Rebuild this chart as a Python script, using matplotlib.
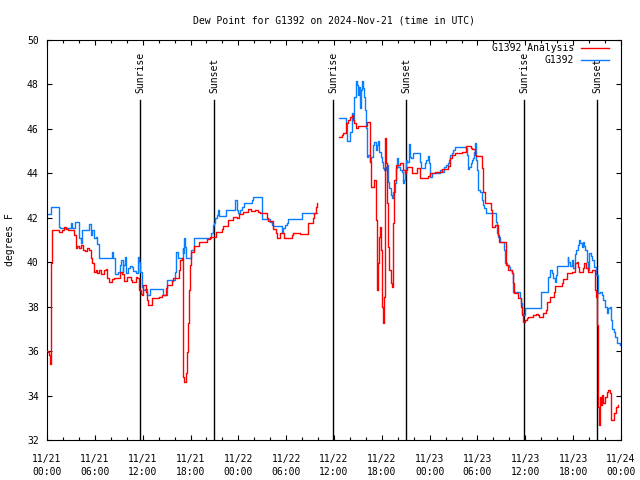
import numpy as np
import matplotlib
matplotlib.use("Agg")
import matplotlib.pyplot as plt
from matplotlib.ticker import MultipleLocator

plt.rcParams['font.family'] = ['DejaVu Sans Mono']
plt.rcParams['font.size'] = 7.0

# hours since 2024-11-21 00:00 UTC
tick_hours = [0, 6, 12, 18, 24, 30, 36, 42, 48, 54, 60, 66, 72]
tick_labels = ["11/21\n00:00", "11/21\n06:00", "11/21\n12:00", "11/21\n18:00",
               "11/22\n00:00", "11/22\n06:00", "11/22\n12:00", "11/22\n18:00",
               "11/23\n00:00", "11/23\n06:00", "11/23\n12:00", "11/23\n18:00",
               "11/24\n00:00"]

sun_hours = [11.67, 20.95, 35.88, 45.02, 59.85, 69.0]
sun_names = ["Sunrise", "Sunset", "Sunrise", "Sunset", "Sunrise", "Sunset"]

# G1392 observations, first day block
obs_h1 = [0.0, 0.54, 1.45, 1.6, 2.97, 3.18, 3.47, 3.97, 4.22, 4.43, 5.27, 5.48,
          5.69, 5.9, 6.1, 6.32, 6.52, 8.2, 8.32, 8.5, 8.9, 9.15, 9.32, 9.49,
          9.57, 9.74, 9.9, 10.16, 10.41, 10.7, 10.83, 11.12, 11.4, 11.54,
          11.66, 11.88, 12.08, 12.29, 12.5, 12.92, 14.6, 15.01, 16.06, 16.18,
          16.39, 17.02, 17.1, 17.23, 17.31, 17.44, 18.02, 18.44, 20.57, 20.78,
          20.95, 21.07, 21.28, 21.49, 21.62, 22.45, 23.6, 23.8, 24.0, 24.21,
          24.5, 24.71, 25.67, 25.8, 26.93, 27.0, 27.97, 28.18, 28.39, 29.52,
          29.64, 29.85, 30.06, 30.27, 31.95, 33.83]
obs_v1 = [42.16, 42.47, 41.57, 41.52, 41.75, 41.52, 41.8, 41.08, 40.85, 41.45,
          41.72, 41.22, 41.45, 41.1, 41.15, 40.8, 40.2, 40.47, 40.17, 39.46,
          39.58, 39.88, 40.1, 39.58, 39.88, 40.25, 39.5, 39.73, 39.83, 39.8,
          39.6, 39.53, 40.22, 40.03, 39.58, 38.9, 38.75, 38.8, 38.53, 38.8,
          38.53, 39.2, 39.58, 40.45, 40.17, 40.63, 40.4, 41.1, 40.7, 40.17,
          40.55, 41.1, 41.3, 41.67, 41.75, 41.98, 42.13, 42.35, 42.08, 42.35,
          42.8, 42.35, 42.2, 42.35, 42.47, 42.65, 42.8, 42.92, 42.58, 41.93,
          41.82, 41.67, 41.63, 41.33, 41.52, 41.67, 41.75, 41.93, 42.2, 42.2]

# G1392 observations, second block
obs_h2 = [36.67, 37.5, 37.67, 38.0, 38.2, 38.35, 38.5, 38.72, 38.85, 39.05,
          39.18, 39.26, 39.39, 39.47, 39.6, 39.76, 39.89, 40.02, 40.1, 40.3,
          40.5, 40.64, 40.85, 41.06, 41.27, 41.44, 41.56, 41.69, 41.85, 41.98,
          42.1, 42.27, 42.4, 42.52, 42.6, 42.73, 42.82, 42.94, 43.1, 43.23,
          43.44, 43.65, 43.78, 43.94, 44.07, 44.28, 44.49, 44.62, 44.78, 44.9,
          45.03, 45.2, 45.35, 45.5, 45.7, 45.95, 46.79, 46.9, 47.4, 47.6, 47.8,
          47.96, 48.08, 48.25, 48.46, 48.88, 49.09, 49.3, 49.5, 49.84, 50.0,
          50.26, 50.43, 50.55, 50.76, 50.97, 51.18, 52.56, 52.68, 52.77, 52.93,
          53.14, 53.35, 53.48, 53.6, 53.69, 53.81, 53.94, 54.1, 54.31, 54.6,
          54.73, 54.86, 55.03, 56.28, 56.4, 56.6, 56.82, 57.37, 57.45, 57.66,
          57.95, 58.08, 58.29, 58.42, 58.5, 59.33, 59.46, 59.55, 59.75, 59.9,
          61.97, 62.9, 63.1, 63.3, 63.5, 63.7, 63.8, 63.93, 65.3, 65.4, 65.6,
          65.8, 66.0, 66.2, 66.36, 66.57, 66.73, 66.86, 67.07, 67.2, 67.32,
          67.5, 67.7, 67.9, 68.0, 68.2, 68.4, 68.65, 68.87, 69.07, 69.15,
          69.37, 69.58, 69.79, 70.0, 70.2, 70.4, 70.6, 70.75, 70.9, 71.08,
          71.25, 71.46, 71.88]
obs_v2 = [46.48, 46.25, 45.45, 45.87, 46.7, 46.4, 47.45, 48.17, 47.97, 47.53,
          47.9, 46.93, 47.75, 48.17, 47.83, 47.45, 46.85, 46.03, 44.75, 44.83,
          44.53, 44.72, 45.28, 45.43, 45.05, 45.28, 45.45, 44.98, 44.75, 44.53,
          44.23, 44.15, 44.3, 44.15, 44.38, 44.08, 43.63, 43.33, 43.03, 42.88,
          43.18, 43.55, 44.23, 44.67, 44.3, 44.15, 44.08, 43.55, 43.7, 44.15,
          44.6, 44.53, 45.3, 44.75, 44.7, 44.9, 44.53, 44.23, 44.45, 44.6,
          44.76, 44.45, 43.85, 44.0, 44.03, 44.08, 44.0, 44.15, 44.08, 44.3,
          44.38, 44.45, 44.6, 44.83, 44.9, 45.05, 45.2, 45.13, 44.83, 44.18,
          44.3, 44.45, 44.6, 44.68, 44.98, 45.38, 44.6, 44.15, 43.25, 43.18,
          42.8, 42.58, 42.43, 42.2, 41.83, 41.3, 41.15, 40.92, 40.55, 39.95,
          39.87, 39.8, 39.65, 39.5, 38.9, 38.67, 38.37, 38.15, 37.7, 37.62,
          37.93, 38.67, 39.35, 39.65, 39.5, 39.28, 39.13, 39.43, 39.83, 40.25,
          40.03, 39.83, 40.1, 39.73, 40.37, 40.55, 40.78, 41.0, 40.85, 40.7,
          40.92, 40.73, 40.55, 40.03, 39.65, 40.4, 40.28, 40.1, 39.8, 39.43,
          39.05, 38.6, 38.67, 38.53, 38.3, 38.0, 37.7, 37.93, 38.0, 37.4, 37.0,
          36.87, 36.65, 36.35, 36.28]

# G1392 analysis, first block
ana_h1 = [0.0, 0.13, 0.25, 0.33, 0.46, 0.54, 0.67, 1.5, 1.92, 2.13, 2.34,
          2.63, 3.39, 3.6, 3.8, 4.01, 4.22, 4.56, 4.73, 4.98, 5.27, 5.48, 5.69,
          5.9, 6.1, 6.31, 6.52, 6.73, 7.15, 7.36, 7.57, 7.78, 8.2, 8.4, 9.16,
          9.45, 9.66, 10.08, 10.5, 10.7, 11.12, 11.33, 11.54, 11.75, 11.88,
          12.08, 12.4, 12.58, 12.71, 13.13, 14.09, 14.39, 14.93, 15.1, 15.64,
          15.85, 16.56, 16.69, 16.9, 17.02, 17.1, 17.23, 17.4, 17.52, 17.73,
          17.85, 17.94, 18.02, 18.44, 19.11, 20.11, 20.45, 21.2, 21.91, 22.12,
          22.74, 23.29, 23.79, 24.12, 24.63, 25.25, 25.55, 26.09, 26.51, 26.72,
          27.56, 27.77, 28.39, 28.68, 28.81, 29.23, 29.73, 30.69, 30.9, 31.74,
          32.7, 32.78, 33.4, 33.53, 33.7, 33.83]
ana_v1 = [36.02, 35.97, 35.83, 35.4, 36.9, 39.95, 41.45, 41.35, 41.45, 41.6,
          41.5, 41.45, 41.22, 40.63, 40.75, 40.65, 40.78, 40.55, 40.5, 40.63,
          40.55, 40.17, 39.95, 39.58, 39.65, 39.5, 39.65, 39.47, 39.65, 39.7,
          39.28, 39.1, 39.25, 39.3, 39.55, 39.46, 39.16, 39.35, 39.2, 39.1,
          39.35, 39.3, 38.75, 38.55, 38.53, 38.98, 38.67, 38.3, 38.08, 38.38,
          38.45, 38.53, 38.83, 38.98, 39.17, 39.28, 39.65, 40.1, 40.17, 36.05,
          34.85, 34.62, 35.0, 35.97, 37.25, 38.75, 39.88, 40.47, 40.73, 40.92,
          41.05, 41.15, 41.37, 41.48, 41.63, 41.9, 42.05, 41.98, 42.17, 42.28,
          42.38, 42.32, 42.35, 42.28, 42.2, 41.98, 41.87, 41.48, 41.3, 41.08,
          41.3, 41.08, 41.22, 41.33, 41.27, 41.67, 41.78, 41.98, 42.2, 42.5,
          42.68]

# G1392 analysis, second block
ana_h2 = [36.67, 36.96, 37.17, 37.5, 37.8, 38.0, 38.2, 38.43, 38.55, 38.76,
          39.05, 40.18, 40.5, 40.64, 41.06, 41.23, 41.35, 41.44, 41.56, 41.69,
          41.77, 41.85, 41.98, 42.06, 42.19, 42.27, 42.4, 42.52, 42.6, 42.69,
          42.82, 42.94, 43.1, 43.23, 43.36, 43.44, 43.57, 43.78, 44.28, 44.7,
          44.9, 45.03, 45.2, 45.75, 45.83, 46.37, 46.79, 47.75, 48.04, 48.67,
          49.5, 50.26, 50.55, 50.76, 51.18, 52.02, 52.56, 53.19, 53.35, 53.69,
          53.77, 54.6, 54.69, 54.94, 55.65, 55.79, 56.2, 56.53, 56.7, 57.54,
          57.87, 58.37, 58.5, 58.62, 59.12, 59.46, 59.62, 59.75, 59.96, 60.17,
          60.38, 61.0, 61.3, 61.55, 61.72, 62.26, 62.6, 62.68, 63.1, 63.6,
          63.72, 64.56, 64.77, 65.19, 65.82, 66.23, 66.44, 66.65, 66.78, 67.28,
          67.4, 67.57, 67.82, 68.32, 68.74, 68.83, 68.95, 69.03, 69.12, 69.24,
          69.37, 69.49, 69.66, 69.79, 70.0, 70.2, 70.41, 70.62, 70.75, 71.17,
          71.33, 71.59]
ana_v2 = [45.65, 45.73, 45.83, 46.25, 46.4, 46.55, 46.63, 46.4, 46.25, 46.03,
          46.13, 46.33, 44.53, 43.4, 43.7, 41.9, 39.95, 38.75, 39.95, 41.15,
          41.6, 40.55, 39.65, 38.0, 37.25, 38.45, 45.58, 44.45, 43.7, 42.65,
          40.7, 39.65, 39.05, 38.9, 39.65, 41.75, 43.7, 44.38, 44.45, 44.15,
          44.0, 44.15, 44.3, 44.08, 44.0, 44.23, 43.78, 43.88, 44.0, 44.08,
          44.18, 44.33, 44.68, 44.83, 44.9, 44.98, 45.23, 45.13, 45.08, 44.83,
          44.78, 44.23, 43.18, 42.68, 42.35, 41.6, 41.67, 41.22, 40.93, 39.88,
          39.65, 39.5, 39.05, 38.6, 38.37, 38.0, 37.63, 37.33, 37.4, 37.48,
          37.55, 37.63, 37.67, 37.63, 37.52, 37.7, 37.85, 38.22, 38.45, 38.67,
          38.93, 39.05, 39.23, 39.5, 39.57, 39.95, 40.03, 39.8, 39.55, 39.73,
          39.95, 39.73, 39.55, 39.65, 38.75, 38.45, 38.67, 37.18, 33.5, 32.68,
          33.95, 33.58, 34.03, 33.65, 33.95, 34.18, 34.25, 34.1, 32.9, 33.2,
          33.5, 33.58]

RED = '#ff0000'
BLUE = '#0a7dff'

fig = plt.figure(figsize=(6.4, 4.8), dpi=100)
ax = fig.add_axes([47 / 640, 40 / 480, 574 / 640, 400 / 480])

def join(h1, v1, h2, v2):
    h = np.concatenate([h1, [np.nan], h2])
    v = np.concatenate([v1, [np.nan], v2])
    return h, v

ah, av = join(ana_h1, ana_v1, ana_h2, ana_v2)
oh, ov = join(obs_h1, obs_v1, obs_h2, obs_v2)

# sunrise / sunset markers
for h, name in zip(sun_hours, sun_names):
    ax.plot([h, h], [32, 47.3], color='black', lw=1.0, zorder=1)
    ax.text(h, 47.62, name, rotation=90, ha='center', va='bottom')

ax.plot(ah, av, color=RED, lw=1.0, drawstyle='steps-post', label='G1392 Analysis', zorder=3)
ax.plot(oh, ov, color=BLUE, lw=1.0, drawstyle='steps-post', label='G1392', zorder=2)

ax.set_xlim(0, 72)
ax.set_ylim(32, 50)
ax.set_xticks(tick_hours)
ax.set_xticklabels(tick_labels, linespacing=1.45)
ax.xaxis.set_minor_locator(MultipleLocator(2))
ax.set_yticks(np.arange(32, 51, 2))
ax.tick_params(which='both', direction='in', top=True, right=True, width=0.8)
ax.tick_params(which='major', length=3.4)
ax.tick_params(which='minor', length=2.0)
ax.tick_params(axis='x', pad=10)
ax.tick_params(axis='y', pad=6)
for s in ax.spines.values():
    s.set_linewidth(0.8)

ax.set_ylabel('degrees F')
ax.yaxis.set_label_coords(-32 / 574, 0.5)
ax.set_title('Dew Point for G1392 on 2024-Nov-21 (time in UTC)', fontsize=7.0, pad=12)

ax.legend(loc='upper right', bbox_to_anchor=(1 - 12 / 574, 1 - 3 / 400),
          frameon=False, markerfirst=False,
          handlelength=2.9, handletextpad=0.7, labelspacing=0.2,
          borderaxespad=0.0, borderpad=0.0)

fig.savefig('out.png', dpi=100)
